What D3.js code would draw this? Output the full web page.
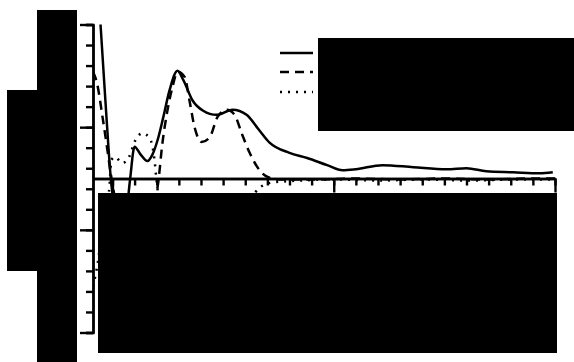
<!DOCTYPE html>
<html>
<head>
<meta charset="utf-8">
<script src="https://cdn.jsdelivr.net/npm/d3@7"></script>
<style>
  body { margin: 0; background: #fff; }
</style>
</head>
<body>
<div id="chart"></div>
<script>
// wavelength (nm) / signal pairs
const solidNm  = [194.6, 196.8, 199.5, 201.5, 204, 206.5, 208, 210, 212.5, 215.8, 218, 220.4, 223, 225.8, 229.4, 232, 236.2, 241, 247, 254.3, 260.6, 266, 271, 280, 288, 297, 304, 310, 322, 336, 351, 360, 369, 381, 393, 399];
const solidVal = [15, 7.6, -0.6, -3.5, -5.5, -3, 0, 3.1, 2.4, 1.7, 2.3, 3.75, 6, 8.6, 10.5, 9.6, 7.6, 6.6, 6.2, 6.7, 6.2, 4.8, 3.5, 2.5, 2.0, 1.3, 0.8, 0.9, 1.3, 1.1, 0.9, 1.0, 0.7, 0.6, 0.5, 0.6];

const dashNm  = [191.2, 193, 195.5, 197.7, 199, 200.5, 203, 207, 212, 216, 219, 220.4, 222.6, 224.9, 227.1, 229.4, 232.6, 234.8, 237.1, 240.3, 243.9, 247.5, 251.6, 255.2, 258.4, 262, 266.5, 270.1, 275, 290, 310, 330, 350, 370, 390, 400];
const dashVal = [10.4, 9.3, 6, 2.8, 0.8, -1.2, -4, -6, -6, -4.5, -2, -0.8, 3.5, 6.7, 8.9, 10.4, 9.9, 7.6, 5.0, 3.55, 4.0, 6.0, 6.7, 6.2, 4.4, 2.5, 0.8, 0.15, -0.1, -0.1, 0, -0.1, 0, -0.1, 0, 0];

const dotNm  = [191.2, 193.5, 195, 197, 198.6, 199.5, 201.2, 204.4, 207.5, 210.4, 213.6, 216.7, 218.1, 219, 219.9, 221, 225, 235, 250, 262, 266.5, 272, 285, 300, 320, 340, 360, 380, 400];
const dotVal = [-10.5, -8, -5.5, -3, -0.9, 1.8, 2.1, 1.5, 2.1, 3.75, 4.4, 3.95, 3.1, 1.8, -0.15, -2, -4, -5, -4, -2, -0.9, -0.4, -0.2, -0.1, -0.2, -0.1, -0.2, -0.1, -0.1];

// ticks
const xMinor = d3.range(200, 401, 10);
const xMajor = [200, 300, 400];
const yMinor = d3.range(-15, 16, 2);
const yMajor = [-15, -5, 5, 15];

const W = 574, H = 362;

const svg = d3.select("#chart").append("svg")
    .attr("width", W)
    .attr("height", H);

const x = d3.scaleLinear().domain([191.2, 400]).range([93, 555]);
const y = d3.scaleLinear().domain([-15, 15]).range([332.5, 24.5]);

svg.append("defs").append("clipPath").attr("id", "plot")
    .append("rect")
    .attr("x", x.range()[0]).attr("y", y.range()[1] - 1)
    .attr("width", x.range()[1] - x.range()[0])
    .attr("height", y.range()[0] - y.range()[1] + 2);

const line = d3.line()
    .x(d => x(d[0]))
    .y(d => y(d[1]))
    .curve(d3.curveMonotoneX);

const series = [
    { nm: solidNm, val: solidVal, dash: null },
    { nm: dashNm, val: dashVal, dash: "9,6" },
    { nm: dotNm, val: dotVal, dash: "2,6" }
];

svg.append("g").attr("clip-path", "url(#plot)")
    .selectAll("path")
    .data(series)
    .join("path")
    .attr("d", s => line(s.nm.map((n, i) => [n, s.val[i]])))
    .attr("fill", "none")
    .attr("stroke", "#000")
    .attr("stroke-width", 2.5)
    .attr("stroke-dasharray", s => s.dash);

// y axis (major + minor ticks)
const yAxisG = svg.append("g").attr("transform", `translate(${x.range()[0]},0)`);
yAxisG.append("g")
    .call(d3.axisLeft(y).tickValues(yMinor).tickSize(7).tickFormat(""));
yAxisG.append("g")
    .call(d3.axisLeft(y).tickValues(yMajor).tickSize(13).tickSizeOuter(0).tickFormat(""));

// x axis sits at zero, ticks hang down
const xAxisG = svg.append("g").attr("transform", `translate(0,${y(0)})`);
xAxisG.append("g")
    .call(d3.axisBottom(x).tickValues(xMinor).tickSize(7).tickSizeOuter(0).tickFormat(""));
xAxisG.append("g")
    .call(d3.axisBottom(x).tickValues(xMajor).tickSize(14).tickSizeOuter(0).tickFormat(""));

svg.selectAll(".domain, .tick line")
    .attr("stroke", "#000")
    .attr("stroke-width", 2.4);

// legend samples
const legendY = [53, 72, 92];
svg.append("g").selectAll("line")
    .data(series)
    .join("line")
    .attr("x1", 280).attr("x2", 313)
    .attr("y1", (d, i) => legendY[i]).attr("y2", (d, i) => legendY[i])
    .attr("stroke", "#000")
    .attr("stroke-width", 2.5)
    .attr("stroke-dasharray", s => s.dash);

// redaction blocks
const blocks = [
    [318, 38, 256, 93],
    [37, 10, 40, 352],
    [7, 90, 30, 181],
    [98, 193, 459, 160]
];
svg.append("g").selectAll("rect")
    .data(blocks)
    .join("rect")
    .attr("x", d => d[0]).attr("y", d => d[1])
    .attr("width", d => d[2]).attr("height", d => d[3])
    .attr("fill", "#000");
</script>
</body>
</html>
